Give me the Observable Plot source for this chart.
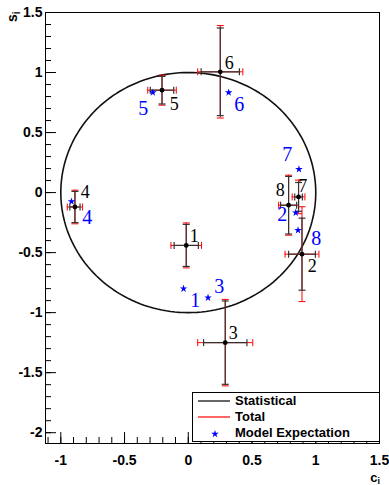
<!DOCTYPE html>
<html><head><meta charset="utf-8">
<script src="https://cdn.jsdelivr.net/npm/d3@7"></script>
<script src="https://cdn.jsdelivr.net/npm/@observablehq/plot@0.6"></script>
<style>
body{margin:0;background:#fff;}
#wrap{position:relative;width:389px;height:485px;}
#legend{position:absolute;left:192px;top:392px;width:186px;height:48px;border:1px solid #000;background:#fff;font:bold 13px "Liberation Sans",Arial,sans-serif;color:#000;}
.row{position:absolute;left:0;width:186px;height:16px;}
.row svg{position:absolute;left:0;top:0;}
.row span{position:absolute;left:42px;top:0;line-height:16px;}
</style></head><body><div id="wrap"></div>
<script>
// measurement ids
const ids = [1, 2, 3, 4, 5, 6, 7, 8];
// measured c_i, s_i
const ci = [-0.016, 0.892, 0.29, -0.889, -0.206, 0.251, 0.865, 0.787];
const si = [-0.44, -0.513, -1.25, -0.12, 0.853, 1.006, -0.036, -0.105];
// statistical and total uncertainties
const statC = [0.095, 0.105, 0.17, 0.04, 0.092, 0.15, 0.03, 0.063];
const totC  = [0.12, 0.133, 0.216, 0.06, 0.112, 0.177, 0.05, 0.078];
const statS = [0.175, 0.30, 0.347, 0.13, 0.115, 0.365, 0.12, 0.24];
const totS  = [0.187, 0.395, 0.36, 0.14, 0.125, 0.385, 0.14, 0.25];
// model expectation
const modelC = [-0.037, 0.843, 0.155, -0.916, -0.278, 0.317, 0.868, 0.861];
const modelS = [-0.8, -0.167, -0.875, -0.075, 0.833, 0.833, 0.195, -0.313];
// label anchors (measurement labels black, model labels blue)
const labC = [0.047, 0.973, 0.353, -0.808, -0.11, 0.322, 0.898, 0.722];
const labS = [-0.36, -0.61, -1.17, 0.0, 0.74, 1.08, 0.056, 0.022];
const mlabC = [0.055, 0.737, 0.243, -0.792, -0.353, 0.4, 0.776, 1.004];
const mlabS = [-0.9, -0.186, -0.785, -0.21, 0.7, 0.73, 0.32, -0.385];
// axis ticks
const xMajor = [-1, -0.5, 0, 0.5, 1, 1.5];
const yMajor = [-2, -1.5, -1, -0.5, 0, 0.5, 1, 1.5];
const xMinor = d3.range(-11, 16).map(k => k / 10);
const yMinor = d3.range(-20, 16).map(k => k / 10);

const pts = ids.map((id, i) => ({id, c: ci[i], s: si[i], sc: statC[i], tc: totC[i], ss: statS[i], ts: totS[i]}));
const model = ids.map((id, i) => ({id, c: modelC[i], s: modelS[i]}));
const labels = ids.map((id, i) => ({id, c: labC[i], s: labS[i]}));
const mlabels = ids.map((id, i) => ({id, c: mlabC[i], s: mlabS[i]}));
const circle = d3.range(0, 361, 2).map(a => ({c: Math.cos(a * Math.PI / 180), s: Math.sin(a * Math.PI / 180)}));

const capH = {draw(ctx, size) { const r = Math.sqrt(size / Math.PI); ctx.moveTo(-r, 0); ctx.lineTo(r, 0); }};
const capV = {draw(ctx, size) { const r = Math.sqrt(size / Math.PI); ctx.moveTo(0, -r); ctx.lineTo(0, r); }};

const statCol = "#333";
function bars(col, kc, ks, w) {
  return [
    Plot.ruleX(pts, {x: "c", y1: d => d.s - d[ks], y2: d => d.s + d[ks], stroke: col, strokeWidth: w}),
    Plot.ruleY(pts, {y: "s", x1: d => d.c - d[kc], x2: d => d.c + d[kc], stroke: col, strokeWidth: w}),
    Plot.dot(pts, {x: "c", y: d => d.s - d[ks], symbol: capH, r: 3.5, stroke: col, fill: "none", strokeWidth: w}),
    Plot.dot(pts, {x: "c", y: d => d.s + d[ks], symbol: capH, r: 3.5, stroke: col, fill: "none", strokeWidth: w}),
    Plot.dot(pts, {x: d => d.c - d[kc], y: "s", symbol: capV, r: 3.5, stroke: col, fill: "none", strokeWidth: w}),
    Plot.dot(pts, {x: d => d.c + d[kc], y: "s", symbol: capV, r: 3.5, stroke: col, fill: "none", strokeWidth: w})
  ];
}

const fontAxis = {fontSize: 14, fontWeight: "bold", fontFamily: "'Liberation Sans', Arial, sans-serif"};

const chart = Plot.plot({
  width: 389, height: 485,
  marginLeft: 45, marginRight: 10, marginTop: 12, marginBottom: 42,
  x: {domain: [-1.12, 1.5]},
  y: {domain: [-2.09, 1.5]},
  style: {background: "#fff", color: "#000"},
  marks: [
    Plot.line(circle, {x: "c", y: "s", stroke: "#111", strokeWidth: 1.6}),
    ...bars("red", "tc", "ts", 1),
    ...bars(statCol, "sc", "ss", 1.2),
    Plot.dot(pts, {x: "c", y: "s", r: 2.4, fill: "#000"}),
    Plot.dot(model, {x: "c", y: "s", symbol: "star", r: 2.4, fill: "blue"}),
    Plot.text(labels, {x: "c", y: "s", text: d => String(d.id), fill: "#000", fontSize: 18, fontFamily: "'Liberation Serif', 'DejaVu Serif', serif"}),
    Plot.text(mlabels, {x: "c", y: "s", text: d => String(d.id), fill: "blue", fontSize: 20, fontFamily: "'Liberation Serif', 'DejaVu Serif', serif"}),
    Plot.axisX(xMajor, {tickSize: 0, tickPadding: 12, tickFormat: d => String(d), label: null, ...fontAxis}),
    Plot.axisY(yMajor, {tickSize: 0, tickPadding: 3, tickFormat: d => String(d), label: null, ...fontAxis}),
    Plot.axisX(xMajor, {tickSize: 11, dy: -11, fill: "none", label: null}),
    Plot.axisX(xMinor, {tickSize: 6, dy: -6, fill: "none", label: null}),
    Plot.axisY(yMajor, {tickSize: 11, dx: 11, fill: "none", label: null}),
    Plot.axisY(yMinor, {tickSize: 6, dx: 6, fill: "none", label: null}),
    Plot.frame({stroke: "#000"})
  ]
});

const wrap = document.getElementById("wrap");
wrap.appendChild(chart);
const svg = d3.select(chart);
// axis titles
const xt = svg.append("text").attr("x", 380).attr("y", 482).attr("text-anchor", "end")
  .attr("font-family", "'Liberation Sans', Arial, sans-serif").attr("font-weight", "bold").attr("font-size", 13).attr("fill", "#000");
xt.append("tspan").text("c");
xt.append("tspan").attr("font-size", 9).attr("dy", 2).text("i");
const yt = svg.append("text").attr("transform", "translate(17,22) rotate(-90)").attr("text-anchor", "start")
  .attr("font-family", "'Liberation Sans', Arial, sans-serif").attr("font-weight", "bold").attr("font-size", 14).attr("fill", "#000");
yt.append("tspan").text("s");
yt.append("tspan").attr("font-size", 10).attr("dy", 3).text("i");

// legend
const legendItems = ["Statistical", "Total", "Model Expectation"];
const legendColors = ["#000", "red", "blue"];
const leg = document.createElement("div");
leg.id = "legend";
legendItems.forEach((name, i) => {
  const row = document.createElement("div");
  row.className = "row";
  row.style.top = (i * 16) + "px";
  const sw = i < 2
    ? `<svg width="40" height="16"><line x1="5" x2="37" y1="8" y2="8" stroke="${legendColors[i]}" stroke-width="1.2"/></svg>`
    : `<svg width="40" height="16"><path transform="translate(22,9)" d="${d3.symbol(d3.symbolStar, 18)()}" fill="${legendColors[i]}"/></svg>`;
  row.innerHTML = sw + `<span>${name}</span>`;
  leg.appendChild(row);
});
wrap.appendChild(leg);
</script>
</body></html>
